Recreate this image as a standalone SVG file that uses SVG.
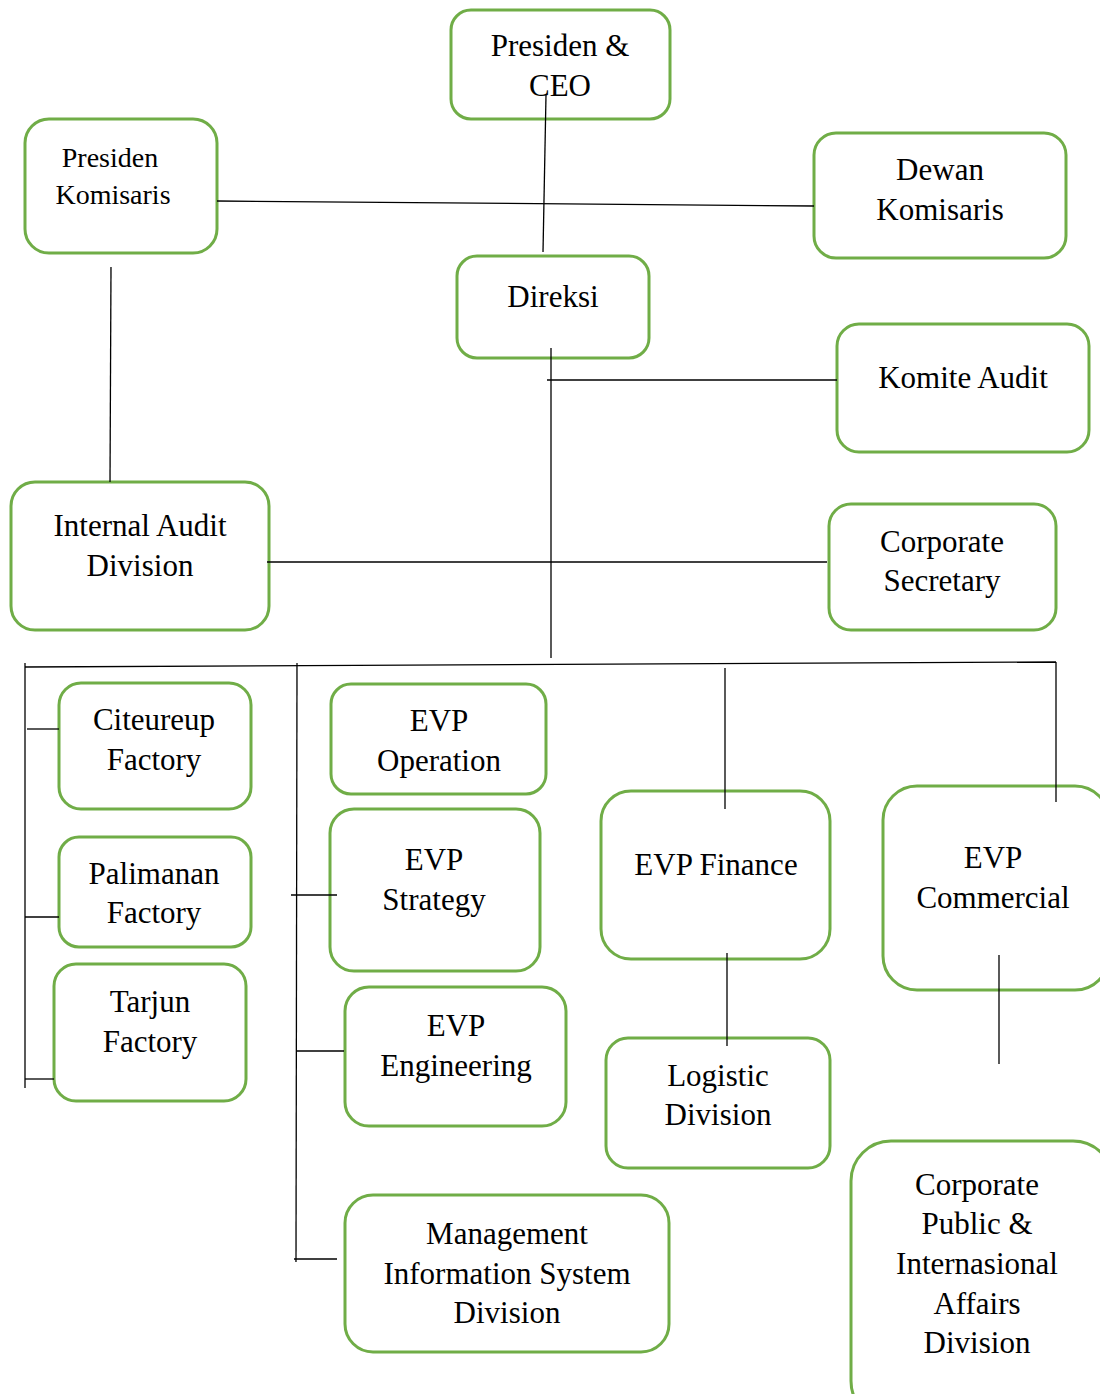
<svg xmlns="http://www.w3.org/2000/svg" width="1100" height="1394" viewBox="0 0 1100 1394">
<style>
.box{fill:#fff;stroke:#70AD47;stroke-width:3}
.t{font-family:"Liberation Serif","Times New Roman",serif;font-size:31px;fill:#000;text-anchor:middle}
.s{font-size:28px}
.c{stroke:#000;stroke-width:1.3;fill:none}
</style>
<rect x="0" y="0" width="1100" height="1394" fill="#fff"/>
<g id="n-ceo"><rect class="box" x="451" y="10" width="219" height="109" rx="20"/><text class="t" x="560" y="56">Presiden &amp;</text><text class="t" x="560" y="96">CEO</text></g>
<g id="n-preskom"><rect class="box" x="25" y="119" width="192" height="134" rx="24"/><text class="t s" x="110" y="167">Presiden</text><text class="t s" x="113" y="204">Komisaris</text></g>
<g id="n-dewan"><rect class="box" x="814" y="133" width="252" height="125" rx="22"/><text class="t" x="940" y="180">Dewan</text><text class="t" x="940" y="220">Komisaris</text></g>
<g id="n-direksi"><rect class="box" x="457" y="256" width="192" height="102" rx="20"/><text class="t" x="553" y="307">Direksi</text></g>
<g id="n-komite"><rect class="box" x="837" y="324" width="252" height="128" rx="22"/><text class="t" x="963" y="388">Komite Audit</text></g>
<g id="n-iad"><rect class="box" x="11" y="482" width="258" height="148" rx="24"/><text class="t" x="140" y="536">Internal Audit</text><text class="t" x="140" y="576">Division</text></g>
<g id="n-corsec"><rect class="box" x="829" y="504" width="227" height="126" rx="22"/><text class="t" x="942" y="552">Corporate</text><text class="t" x="942" y="591">Secretary</text></g>
<g id="n-citeureup"><rect class="box" x="59" y="683" width="192" height="126" rx="22"/><text class="t" x="154" y="730">Citeureup</text><text class="t" x="154" y="770">Factory</text></g>
<g id="n-palimanan"><rect class="box" x="59" y="837" width="192" height="110" rx="20"/><text class="t" x="154" y="884">Palimanan</text><text class="t" x="154" y="923">Factory</text></g>
<g id="n-tarjun"><rect class="box" x="54" y="964" width="192" height="137" rx="22"/><text class="t" x="150" y="1012">Tarjun</text><text class="t" x="150" y="1052">Factory</text></g>
<g id="n-evpop"><rect class="box" x="331" y="684" width="215" height="110" rx="20"/><text class="t" x="439" y="731">EVP</text><text class="t" x="439" y="771">Operation</text></g>
<g id="n-evpst"><rect class="box" x="330" y="809" width="210" height="162" rx="24"/><text class="t" x="434" y="870">EVP</text><text class="t" x="434" y="910">Strategy</text></g>
<g id="n-evpeng"><rect class="box" x="345" y="987" width="221" height="139" rx="24"/><text class="t" x="456" y="1036">EVP</text><text class="t" x="456" y="1076">Engineering</text></g>
<g id="n-evpfin"><rect class="box" x="601" y="791" width="229" height="168" rx="30"/><text class="t" x="716" y="875">EVP Finance</text></g>
<g id="n-evpcom"><rect class="box" x="883" y="786" width="226" height="204" rx="34"/><text class="t" x="993" y="868">EVP</text><text class="t" x="993" y="908">Commercial</text></g>
<g id="n-logistic"><rect class="box" x="606" y="1038" width="224" height="130" rx="22"/><text class="t" x="718" y="1086">Logistic</text><text class="t" x="718" y="1125">Division</text></g>
<g id="n-mis"><rect class="box" x="345" y="1195" width="324" height="157" rx="28"/><text class="t" x="507" y="1244">Management</text><text class="t" x="507" y="1284">Information System</text><text class="t" x="507" y="1323">Division</text></g>
<g id="n-cpia"><rect class="box" x="851" y="1141" width="262" height="280" rx="40"/><text class="t" x="977" y="1195">Corporate</text><text class="t" x="977" y="1234">Public &amp;</text><text class="t" x="977" y="1274">Internasional</text><text class="t" x="977" y="1314">Affairs</text><text class="t" x="977" y="1353">Division</text></g>
<g id="connectors" class="c">
<line x1="546" y1="95" x2="543" y2="252"/>
<line x1="217" y1="201" x2="814" y2="206"/>
<line x1="111" y1="267" x2="110" y2="482"/>
<line x1="551" y1="348" x2="551" y2="658"/>
<line x1="547" y1="380" x2="837" y2="380"/>
<line x1="267" y1="562" x2="827" y2="562"/>
<line x1="25" y1="667" x2="1056" y2="662"/>
<line x1="25" y1="663" x2="25" y2="1088"/>
<line x1="27" y1="729" x2="59" y2="729"/>
<line x1="25" y1="917" x2="59" y2="917"/>
<line x1="25" y1="1079" x2="54" y2="1079"/>
<line x1="297" y1="663" x2="296" y2="1262"/>
<line x1="291" y1="895" x2="337" y2="895"/>
<line x1="296" y1="1051" x2="344" y2="1051"/>
<line x1="294" y1="1259" x2="337" y2="1259"/>
<line x1="725" y1="668" x2="725" y2="809"/>
<line x1="1056" y1="662" x2="1056" y2="802"/>
<line x1="727" y1="953" x2="727" y2="1046"/>
<line x1="999" y1="955" x2="999" y2="1064"/>
</g>
</svg>
